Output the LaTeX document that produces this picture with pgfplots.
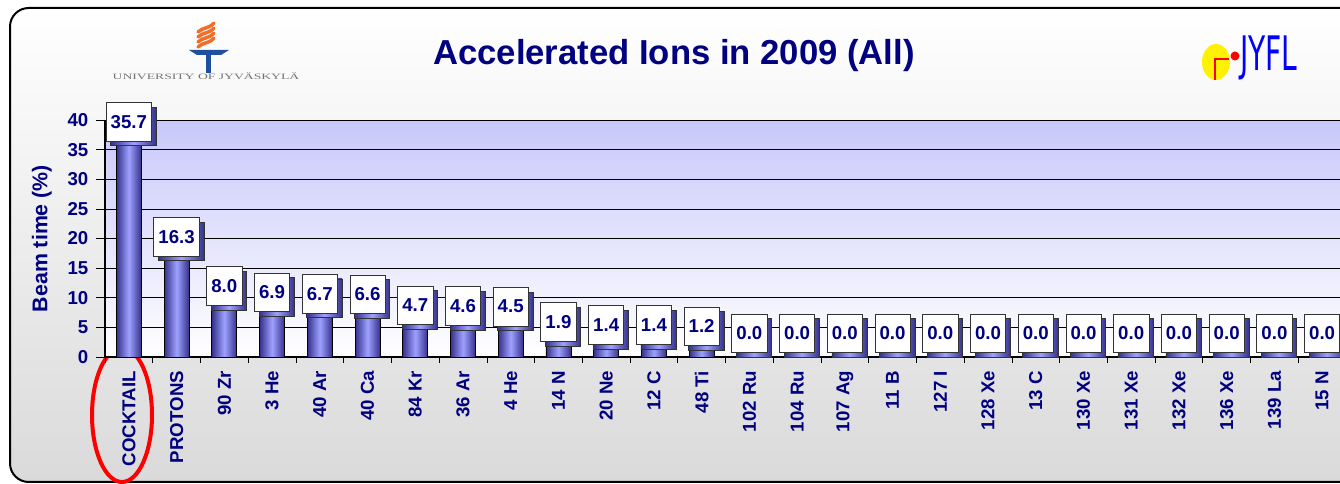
\documentclass[border=0pt]{standalone}
\usepackage{fontspec}
\setmainfont{Liberation Sans}
\newfontfamily\ujserif{Liberation Serif}
\newfontfamily\djv{DejaVu Sans}
\usepackage{pgfplots}
\usepackage{pgfplotstable}
\pgfplotsset{compat=1.18}
\usetikzlibrary{shadows}

\definecolor{navy}{RGB}{0,0,128}
\definecolor{framegray}{RGB}{218,218,218}
\definecolor{plottop}{RGB}{200,200,250}
\definecolor{barmid}{RGB}{160,160,255}
\definecolor{baredge}{RGB}{50,50,140}
\definecolor{ujorange}{RGB}{240,110,40}
\definecolor{ujblue}{RGB}{30,80,160}

% beam time share (%) per ion, in chart order
\pgfplotstableread{
x y
0 35.7
1 16.3
2 8.0
3 6.9
4 6.7
5 6.6
6 4.7
7 4.6
8 4.5
9 1.9
10 1.4
11 1.4
12 1.2
13 0
14 0
15 0
16 0
17 0
18 0
19 0
20 0
21 0
22 0
23 0
24 0
25 0
}\beamdata

\begin{document}
\begin{tikzpicture}[x=0.75pt,y=-0.75pt]
\useasboundingbox (0,0) rectangle (1340,484);
\clip (0,0) rectangle (1340,484);
\fill[white] (0,0) rectangle (1340,484);
% rounded frame of the slide
\draw[line width=1.5pt, top color=white, bottom color=framegray, rounded corners=14pt]
  (10,8) rectangle (1362,482);

% University of Jyvaskyla logo (simplified)
\foreach \dy in {0,5,10,15}{
  \draw[ujorange, line width=2.6pt, line cap=round]
    (198,47-\dy) .. controls (203,42-\dy) and (209,44-\dy) .. (214,38-\dy);
}
\fill[ujblue] (189,50) -- (229,50) -- (221,55) -- (197,55) -- cycle;
\fill[ujblue] (206,55) rectangle (211,73);
\node[inner sep=0, anchor=base, text=black!55] at (206,80)
  {\resizebox{140pt}{5pt}{\ujserif UNIVERSITY OF JYV\"ASKYL\"A}};

% JYFL logo (simplified)
\fill[yellow] (1216,62) ellipse [x radius=14, y radius=18];
\draw[red, line width=2.2pt] (1215,80) -- (1215,59) -- (1229,59);
\fill[red] (1235,56) circle [radius=4.5];
\node[inner sep=0, anchor=south west, text=blue] at (1240,80)
  {\resizebox{43pt}{26pt}{\djv JYFL}};

% title
\node[anchor=base, text=navy, font=\fontsize{26}{30}\selectfont\bfseries]
  at (674,65) {Accelerated Ions in 2009 (All)};

% annotation ellipse round COCKTAIL
\draw[red, line width=3pt] (122,415) ellipse [x radius=30, y radius=67];

\coordinate (O) at (105,357);
\begin{axis}[
  at={(O)}, anchor=south west,
  scale only axis,
  width=930.75pt, height=177.75pt,
  xmin=-0.5, xmax=25.5,
  ymin=0, ymax=40,
  /pgf/number format/assume math mode=true,
  axis lines*=left,
  axis line style={-, black, line width=0.8pt},
  axis background/.style={top color=plottop, bottom color=white},
  ymajorgrids,
  major grid style={black, line width=0.5pt},
  ytick={0,5,...,40},
  xtick={0,...,25},
  xticklabels={COCKTAIL, PROTONS, 90 Zr, 3 He, 40 Ar, 40 Ca, 84 Kr, 36 Ar, 4 He,
    14 N, 20 Ne, 12 C, 48 Ti, 102 Ru, 104 Ru, 107 Ag, 11 B, 127 I, 128 Xe,
    13 C, 130 Xe, 131 Xe, 132 Xe, 136 Xe, 139 La, 15 N},
  minor xtick={-0.5,0.5,...,25.5},
  major x tick style={draw=none},
  minor x tick style={black, line width=0.5pt},
  tick align=outside,
  major tick length=7pt,
  minor tick length=4.5pt,
  ytick style={black, line width=0.5pt},
  tick label style={text=navy, font=\fontsize{14}{16}\selectfont\bfseries},
  xticklabel style={rotate=90, anchor=east},
  yticklabel style={xshift=-2pt},
  ylabel={Beam time (\%)},
  ylabel style={at={(axis description cs:-0.0508,0.5)}, anchor=center,
    text=navy, font=\fontsize{16}{18}\selectfont\bfseries},
  clip=false,
]
\pgfplotsinvokeforeach{0,...,25}{
\addplot[ybar, bar shift=0pt, bar width=18.75pt, draw=black, line width=0.5pt,
  left color=baredge, right color=baredge, middle color=barmid,
  restrict x to domain=#1:#1,
  nodes near coords={\pgfmathprintnumber[fixed,zerofill,precision=1]{\pgfplotspointmeta}},
  every node near coord/.style={anchor=south, yshift=3pt, fill=white, draw=black!80,
    line width=0.5pt, text=navy, font=\fontsize{14}{16}\selectfont\bfseries,
    inner xsep=3.5pt, minimum height=29pt,
    drop shadow={shadow xshift=3.5pt, shadow yshift=-3.5pt, fill=black, opacity=1}},
] table[x=x, y=y] {\beamdata};
}
\end{axis}
\end{tikzpicture}
\end{document}
